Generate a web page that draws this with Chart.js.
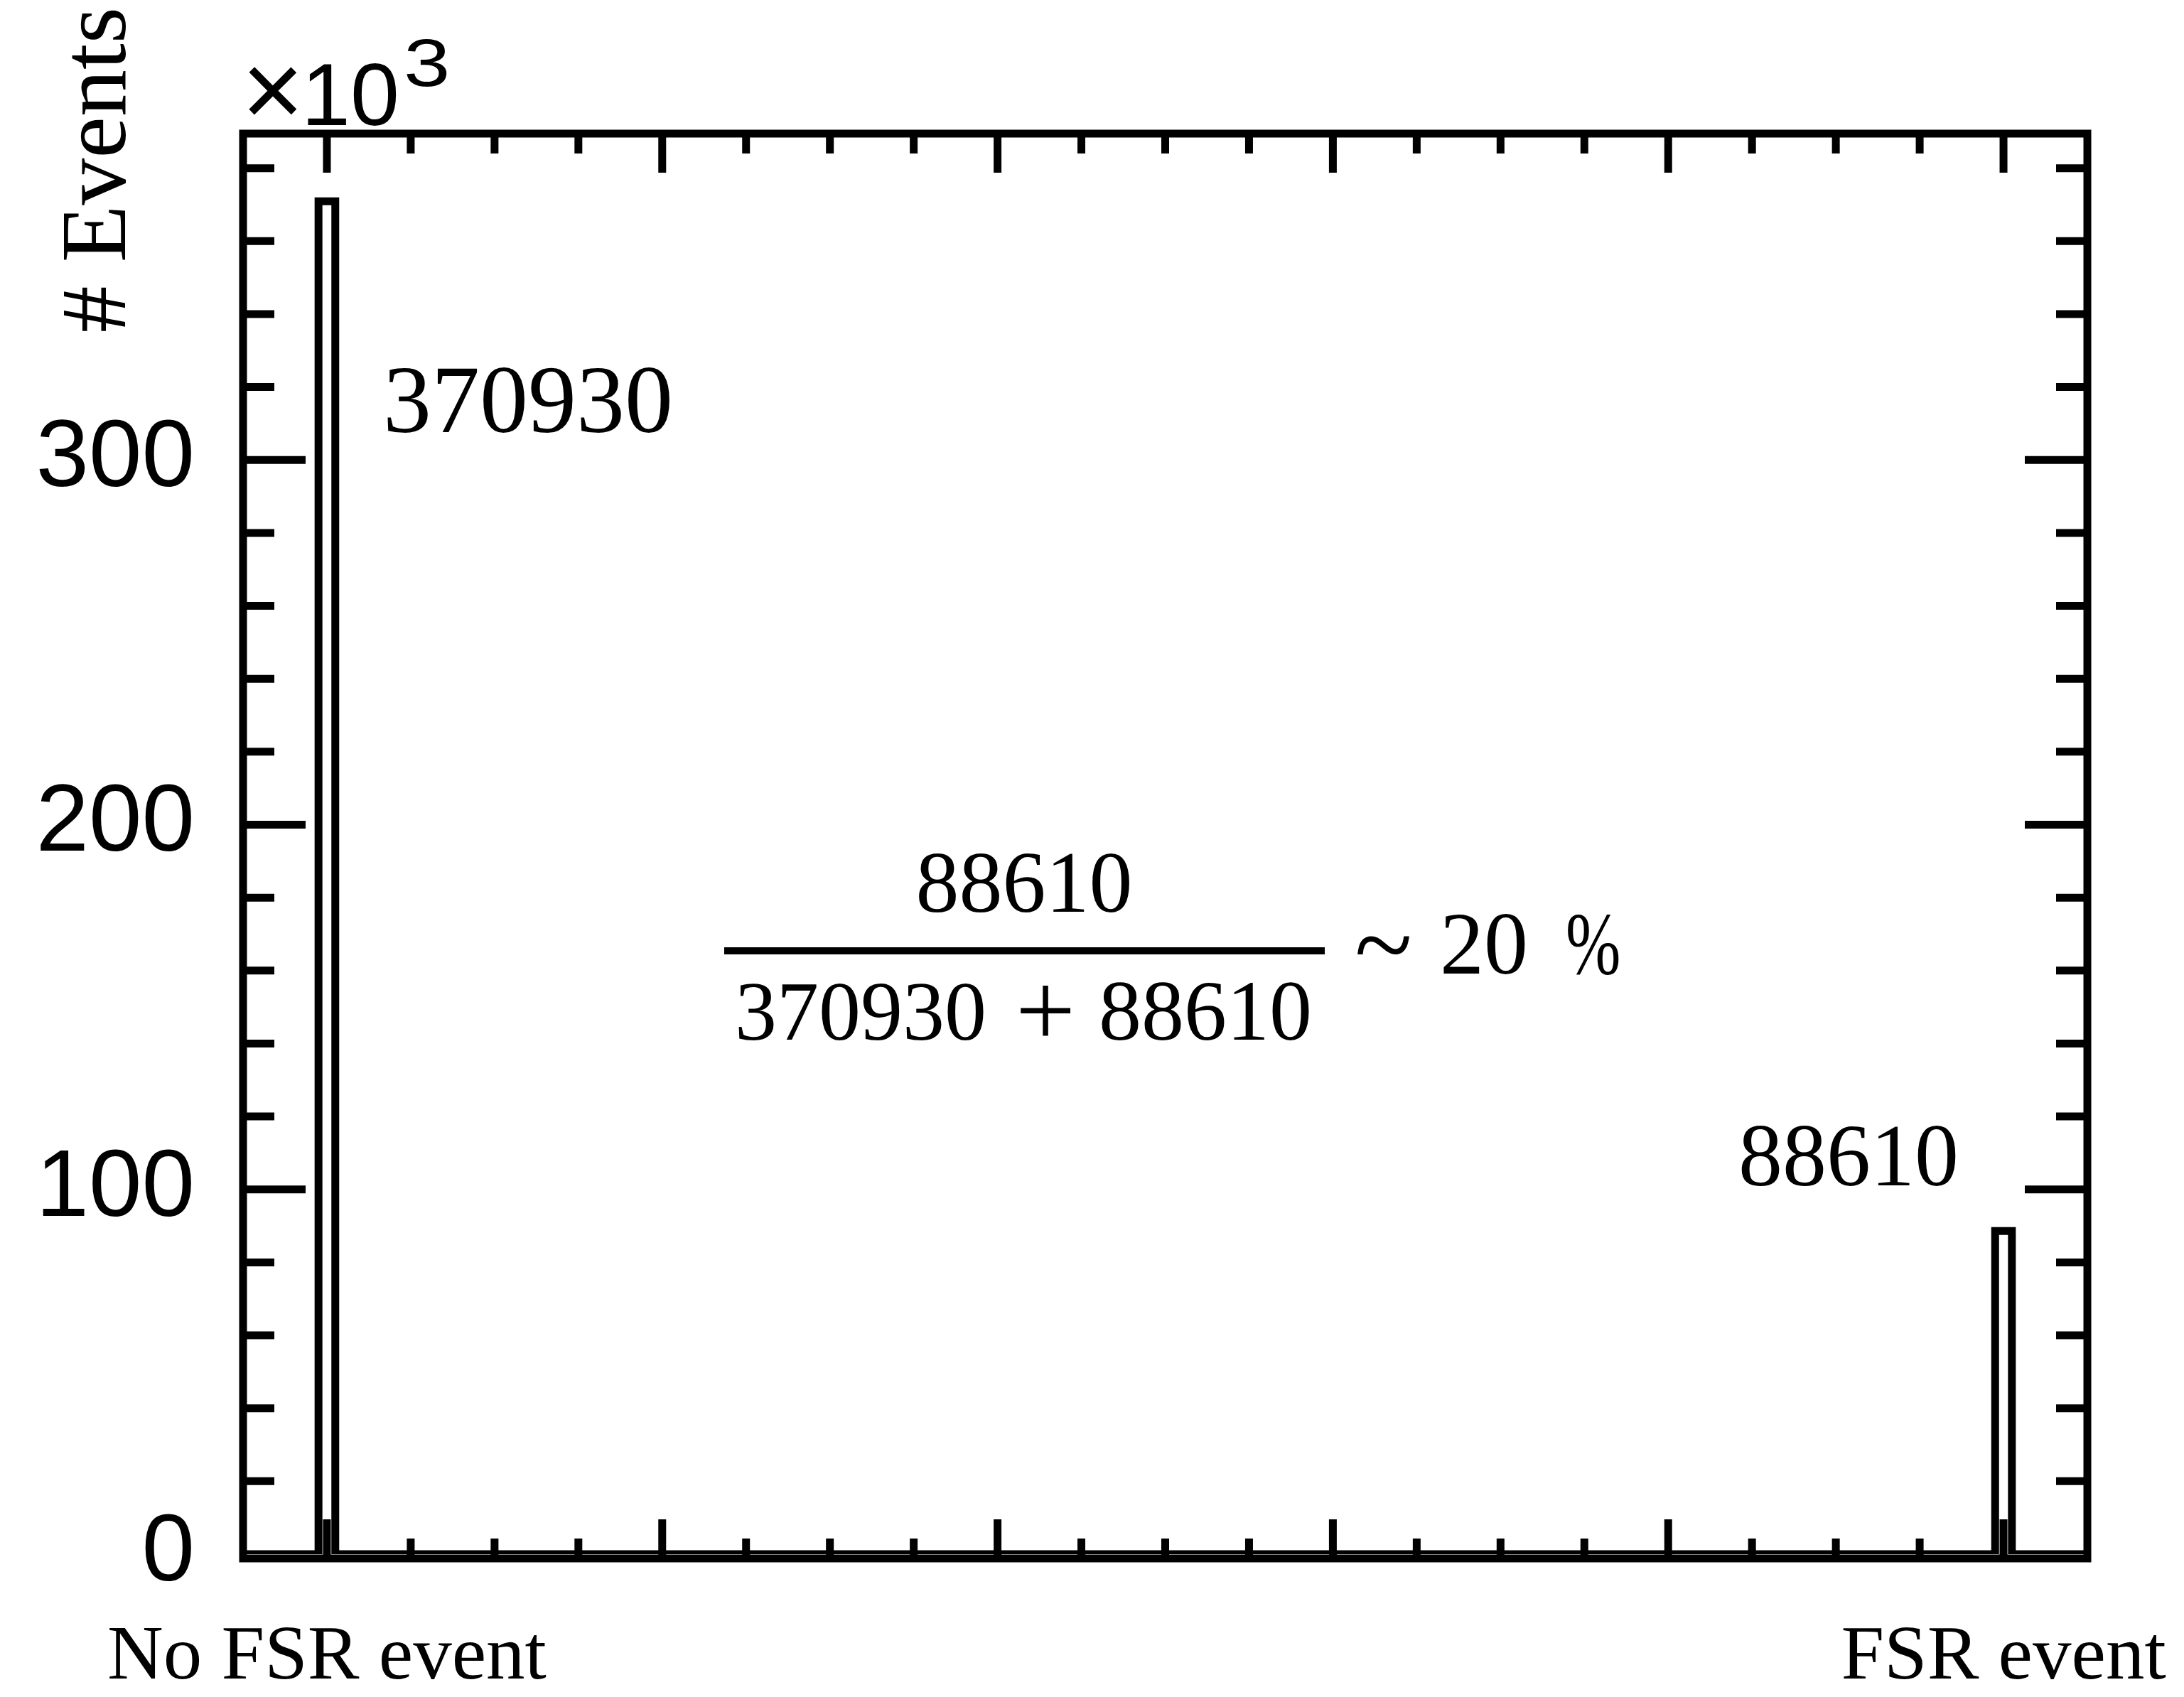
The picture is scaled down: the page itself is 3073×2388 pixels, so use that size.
<!DOCTYPE html>
<html>
<head>
<meta charset="utf-8">
<title># Events: FSR / no FSR</title>
<script src="https://cdn.jsdelivr.net/npm/chart.js@4.4.1/dist/chart.umd.min.js"></script>
<style>
  html, body { margin: 0; padding: 0; background: #fff; }
  canvas { display: block; }
</style>
</head>
<body>
<canvas id="c" width="3073" height="2388"></canvas>
<script>
// ---- data ----
const categories = ['No FSR event', 'FSR event'];
const binCenters = [0, 1];
const events = [370930, 88610];
const binWidth = 0.01;
const yTickValues = [0, 100, 200, 300];   // axis labels, in units of 10^3
const yUnit = 1000;
const xLimits = [-0.05, 1.05];
const yMax = 1.05 * Math.max(...events);

// Histogram outline (ROOT-style step line, zero line between bins)
function histOutline(centers, values, width, lo, hi) {
  const pts = [{ x: lo, y: 0 }];
  centers.forEach((c, i) => {
    const a = c - width / 2, b = c + width / 2;
    pts.push({ x: a, y: 0 }, { x: a, y: values[i] }, { x: b, y: values[i] }, { x: b, y: 0 });
  });
  pts.push({ x: hi, y: 0 });
  return pts;
}

const LW = 11;
const SERIF = '"Liberation Serif", "Times New Roman", serif';
const SANS = '"Liberation Sans", Arial, sans-serif';

// frame with inward major/minor ticks on all four sides
const frameAndTicks = {
  id: 'frameAndTicks',
  afterDatasetsDraw(chart) {
    const { ctx, chartArea: a, scales: { x, y } } = chart;
    const bottom = a.bottom + 6;
    ctx.save();
    ctx.strokeStyle = '#000';
    ctx.lineWidth = LW;
    ctx.lineCap = 'butt';
    ctx.beginPath();
    for (let i = 1; i < 22; i++) {
      const v = xLimits[0] + i * 0.05;
      const r = v / 0.2;
      const major = Math.abs(r - Math.round(r)) < 1e-6;
      const len = major ? 55 : 28;
      const px = x.getPixelForValue(v);
      ctx.moveTo(px, bottom); ctx.lineTo(px, bottom - len);
      ctx.moveTo(px, a.top); ctx.lineTo(px, a.top + len);
    }
    for (let i = 1; i * 20000 < yMax; i++) {
      const v = i * 20000;
      const major = i % 5 === 0;
      const len = major ? 88 : 44;
      const py = y.getPixelForValue(v);
      ctx.moveTo(a.left, py); ctx.lineTo(a.left + len, py);
      ctx.moveTo(a.right, py); ctx.lineTo(a.right - len, py);
    }
    ctx.stroke();
    ctx.lineJoin = 'miter';
    ctx.strokeRect(a.left, a.top, a.right - a.left, bottom - a.top);
    ctx.restore();
  }
};

// titles and text annotations
const annotations = {
  id: 'annotations',
  afterDraw(chart) {
    const ctx = chart.ctx;
    ctx.save();
    ctx.fillStyle = '#000';
    ctx.textBaseline = 'alphabetic';

    // y axis title
    ctx.save();
    ctx.translate(176, 10);
    ctx.rotate(-Math.PI / 2);
    ctx.textAlign = 'right';
    ctx.font = '132px ' + SERIF;
    ctx.fillText('# Events', 0, 0);
    ctx.restore();

    // axis multiplier
    ctx.textAlign = 'left';
    ctx.font = '150px ' + SANS;
    ctx.fillText('\u00d7', 340, 178);
    ctx.font = '124px ' + SANS;
    ctx.fillText('10', 424, 176);
    ctx.save();
    ctx.translate(568, 121);
    ctx.scale(1.25, 1);
    ctx.font = '94px ' + SANS;
    ctx.fillText('3', 0, 0);
    ctx.restore();

    // bin contents
    ctx.font = '136px ' + SERIF;
    ctx.fillText(String(events[0]), 539, 608);
    ctx.font = '124px ' + SERIF;
    ctx.fillText(String(events[1]), 2446, 1668);

    // fraction of FSR events
    ctx.font = '122px ' + SERIF;
    ctx.textAlign = 'center';
    ctx.fillText(String(events[1]), 1441, 1283);
    ctx.font = '118px ' + SERIF;
    ctx.textAlign = 'right';
    ctx.fillText(String(events[0]), 1388, 1463);
    ctx.font = '120px ' + SERIF;
    ctx.textAlign = 'left';
    ctx.fillText(String(events[1]), 1546, 1463);
    ctx.textAlign = 'center';
    ctx.font = '150px ' + SERIF;
    ctx.fillText('+', 1471, 1472);
    ctx.fillRect(1019, 1333, 845, 10);
    ctx.textAlign = 'left';
    ctx.font = '150px ' + SERIF;
    ctx.fillText('~', 1906, 1380);
    ctx.font = '124px ' + SERIF;
    ctx.fillText('20', 2026, 1370);
    ctx.save();
    ctx.translate(2203, 1370);
    ctx.scale(0.75, 1);
    ctx.fillText('%', 0, 0);
    ctx.restore();

    ctx.restore();
  }
};

new Chart(document.getElementById('c'), {
  type: 'line',
  data: {
    datasets: [{
      label: 'events',
      data: histOutline(binCenters, events, binWidth, xLimits[0], xLimits[1]),
      borderColor: '#000',
      borderWidth: LW,
      borderJoinStyle: 'miter',
      borderCapStyle: 'butt',
      pointRadius: 0,
      fill: false,
      tension: 0
    }]
  },
  options: {
    responsive: false,
    animation: false,
    events: [],
    layout: { padding: { top: 188, right: 136, left: 0, bottom: 0 }, autoPadding: false },
    plugins: { legend: { display: false }, tooltip: { enabled: false } },
    scales: {
      x: {
        type: 'linear',
        min: xLimits[0],
        max: xLimits[1],
        grid: { display: false, drawTicks: false },
        border: { display: false },
        afterBuildTicks: s => { s.ticks = binCenters.map(v => ({ value: v })); },
        afterFit: s => {
          s.height = 201;
          s.paddingLeft = 0; s.paddingRight = 0; s.paddingTop = 0; s.paddingBottom = 0;
        },
        ticks: {
          autoSkip: false,
          maxRotation: 0,
          padding: 81,
          color: '#000',
          font: { family: SERIF, size: 109, lineHeight: 1.2 },
          callback: (v, i) => categories[i]
        }
      },
      y: {
        type: 'linear',
        min: 0,
        max: yMax,
        grid: { display: false, drawTicks: false },
        border: { display: false },
        afterBuildTicks: s => { s.ticks = yTickValues.map(v => ({ value: v * yUnit })); },
        afterFit: s => {
          s.width = 342;
          s.paddingLeft = 0; s.paddingRight = 0; s.paddingTop = 0; s.paddingBottom = 0;
        },
        ticks: {
          padding: 68,
          color: '#000',
          font: { family: SANS, size: 134 },
          callback: v => String(v / yUnit)
        }
      }
    }
  },
  plugins: [frameAndTicks, annotations]
});
</script>
</body>
</html>
